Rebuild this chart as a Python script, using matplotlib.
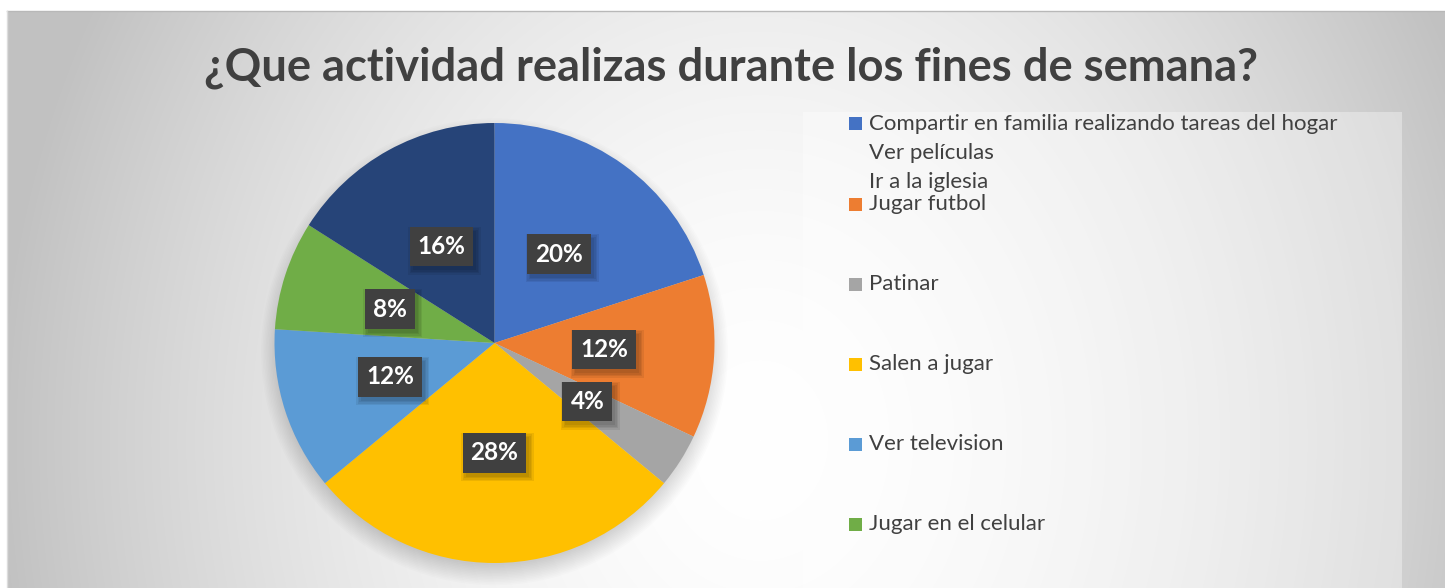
import numpy as np
import matplotlib
matplotlib.use("Agg")
import matplotlib.pyplot as plt
from matplotlib.patches import Rectangle, Circle
from matplotlib.lines import Line2D

# ---------------- data ----------------
title = "¿Que actividad realizas durante los fines de semana?"
categories = [
    "Compartir en familia realizando tareas del hogar\nVer películas\nIr a la iglesia",
    "Jugar futbol",
    "Patinar",
    "Salen a jugar",
    "Ver television",
    "Jugar en el celular",
    "",
]
values = [20, 12, 4, 28, 12, 8, 16]
colors = ["#4472C4", "#ED7D31", "#A5A5A5", "#FFC000", "#5B9BD5", "#70AD47", "#264478"]

W, H = 1445, 588
FONT = "Lato"
TXT = "#404040"

fig = plt.figure(figsize=(W / 100, H / 100), dpi=100)
fig.patch.set_facecolor("white")

# ---------- background radial gradient ----------
bx0, by_top = 7, 11
bg = fig.add_axes([bx0 / W, 0, 1 - bx0 / W, (H - by_top) / H])
bg.set_axis_off()
xs = np.arange(bx0, W)
ys = np.arange(by_top, H)
X, Y = np.meshgrid(xs, ys)
cx, cy = 760, 440
norm = np.sqrt(((X - cx) / 760.0) ** 2 + ((Y - cy) / 900.0) ** 2)
val = 1 - 0.24 * np.clip(norm, 0, 1) ** 1.7
img = np.dstack([val, val, val])
bg.imshow(img, aspect="auto", extent=[0, 1, 0, 1], origin="upper", interpolation="bilinear")
bg.set_xlim(0, 1)
bg.set_ylim(0, 1)

# border lines of the chart area
fig.add_artist(Line2D([bx0 / W, 1], [1 - by_top / H, 1 - by_top / H], color="#b8b8b8", lw=1.0))
fig.add_artist(Line2D([bx0 / W, bx0 / W], [0, 1 - by_top / H], color="#dcdcdc", lw=1.0))

# legend panel (light overlay)
fig.add_artist(Rectangle((803 / W, 0), (1402 - 803) / W, (H - 112) / H,
                         transform=fig.transFigure, facecolor="white", alpha=0.35,
                         edgecolor="none", zorder=1))

# ---------------- pie ----------------
pcx, pcy, pr = 494.5, 343, 220
ax = fig.add_axes([(pcx - pr) / W, (H - pcy - pr) / H, 2 * pr / W, 2 * pr / H])
ax.set_axis_off()

# soft shadow below the pie
for i in range(14):
    ax.add_patch(Circle((0.0, -0.04), 0.97 + 0.007 * i, facecolor="black",
                        alpha=0.012, edgecolor="none", zorder=0, clip_on=False))

wedges, texts, autotexts = ax.pie(
    values, colors=colors, startangle=90, counterclock=False,
    autopct=lambda p: f"{p:.0f}%", pctdistance=0.5, radius=1.0,
    wedgeprops=dict(linewidth=0, edgecolor="none"),
)
for t in autotexts:
    t.set_color("white")
    t.set_fontfamily(FONT)
    t.set_fontweight("bold")
    t.set_fontsize(17.5)
    t.set_bbox(dict(boxstyle="square,pad=0.33", facecolor="#404040", edgecolor="none"))
    t.set_zorder(6)
ax.set_xlim(-1, 1)
ax.set_ylim(-1, 1)
ax.set_aspect("equal")

# ---------------- title ----------------
tt = fig.text(731 / W, 1 - 68 / H, title, ha="center", va="center",
              fontfamily=FONT, fontweight="bold", fontsize=30, color=TXT)

# ---------------- legend ----------------
leg_x_marker = 849
leg_x_text = 869
leg_y0 = 124
leg_step = 80
line_step = 29
msize = 13
legend_texts = []
for i, (lab, col) in enumerate(zip(categories, colors)):
    y = leg_y0 + leg_step * i
    if y > H - 10 or not lab:
        continue
    fig.add_artist(Rectangle((leg_x_marker / W, 1 - (y + msize / 2) / H), msize / W, msize / H,
                             transform=fig.transFigure, facecolor=col, edgecolor="none", zorder=3))
    for j, line in enumerate(lab.split("\n")):
        lt = fig.text(leg_x_text / W, 1 - (y + j * line_step) / H, line, ha="left", va="center",
                      fontfamily=FONT, fontsize=15, color=TXT, zorder=3)
        legend_texts.append(lt)

# fit font sizes to measured widths
fig.canvas.draw()
r = fig.canvas.get_renderer()
w = tt.get_window_extent(r).width
tt.set_fontsize(30 * 1053 / w)
w0 = legend_texts[0].get_window_extent(r).width
ls = 15 * 468 / w0
for lt in legend_texts:
    lt.set_fontsize(ls)

# soft shadows behind the label boxes (from their drawn extents)
for t in autotexts:
    bb = t.get_bbox_patch().get_window_extent(r)
    for k in range(4):
        g = 1.5 * k
        ax.add_artist(Rectangle(((bb.x0 + 3 - g) / W, (bb.y0 - 4 - g) / H),
                                (bb.width + 2 * g) / W, (bb.height + 2 * g) / H,
                                transform=fig.transFigure, facecolor="black", alpha=0.07,
                                edgecolor="none", zorder=5, clip_on=False))

fig.savefig("out.png", dpi=100)
